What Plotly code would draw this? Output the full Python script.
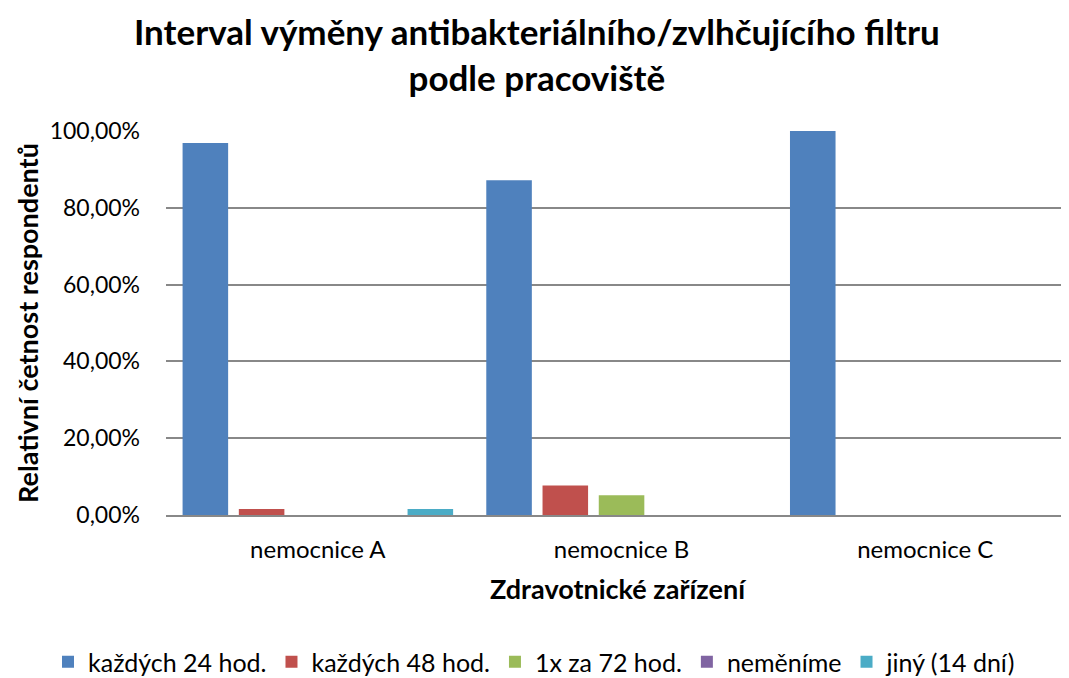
import plotly.graph_objects as go

categories = ["nemocnice A", "nemocnice B", "nemocnice C"]
series_names = ["každých 24 hod.", "každých 48 hod.", "1x za 72 hod.", "neměníme", "jiný (14 dní)"]
s_24h = [0.9688, 0.8718, 1.0]
s_48h = [0.0156, 0.0769, 0.0]
s_72h = [0.0, 0.0513, 0.0]
s_nemenime = [0.0, 0.0, 0.0]
s_jiny = [0.0156, 0.0, 0.0]
colors = ["#4F81BD", "#C0504D", "#9BBB59", "#8064A2", "#4BACC6"]
y_ticks = [0, 0.2, 0.4, 0.6, 0.8, 1.0]

FONT = "Lato, 'Open Sans', sans-serif"
OFF = 8  # page body margin
W, H = 1069 - OFF, 678 - OFF
L, T = 166 - OFF, 131 - OFF
PH = 384
PW = W - L

fig = go.Figure()
for name, vals, col in zip(series_names, [s_24h, s_48h, s_72h, s_nemenime, s_jiny], colors):
    fig.add_trace(go.Bar(x=categories, y=vals, name=name, marker=dict(color=col, line=dict(width=0))))

fig.add_annotation(
    text="<b>Interval výměny antibakteriálního/zvlhčujícího filtru<br>podle pracoviště</b>",
    xref="paper", yref="paper",
    x=(536.5 - 166) / PW, xanchor="center",
    y=1 + T / PH, yanchor="top",
    showarrow=False, align="center",
    font=dict(size=35, family=FONT, color="#000000"),
)

fig.update_layout(
    width=W, height=H,
    paper_bgcolor="white", plot_bgcolor="white",
    margin=dict(l=L, r=0, t=T, b=H - T - PH, autoexpand=False),
    separators=", ",
    barmode="group", bargap=0.074, bargroupgap=0.19,
    font=dict(family=FONT, color="#000000"),
    showlegend=True,
    legend=dict(
        orientation="h", xref="paper", x=(40 - L) / PW, xanchor="left",
        y=-(662 - 515) / PH, yanchor="middle",
        font=dict(size=25, family=FONT, color="#000000"),
        traceorder="normal", itemwidth=30,
    ),
)
fig.update_xaxes(
    range=[-0.5, -0.5 + PW / 303.7], automargin=False,
    showgrid=False, showline=True, linecolor="#888888", linewidth=2,
    ticks="", tickfont=dict(size=24, family=FONT, color="#000000"),
    ticklabelstandoff=12,
    title=dict(text="<b>Zdravotnické zařízení</b>", font=dict(size=27, family=FONT, color="#000000"), standoff=18),
)
fig.update_yaxes(
    range=[0, 1], tickvals=y_ticks, tickformat=".2%", automargin=False,
    showgrid=True, gridcolor="#888888", gridwidth=1.5,
    zeroline=False, showline=False,
    ticks="", tickfont=dict(size=23, family=FONT, color="#000000"),
    ticklabelstandoff=25,
    title=dict(text="<b>Relativní četnost respondentů</b>", font=dict(size=27, family=FONT, color="#000000"), standoff=3),
)

fig.write_html("out.html")
